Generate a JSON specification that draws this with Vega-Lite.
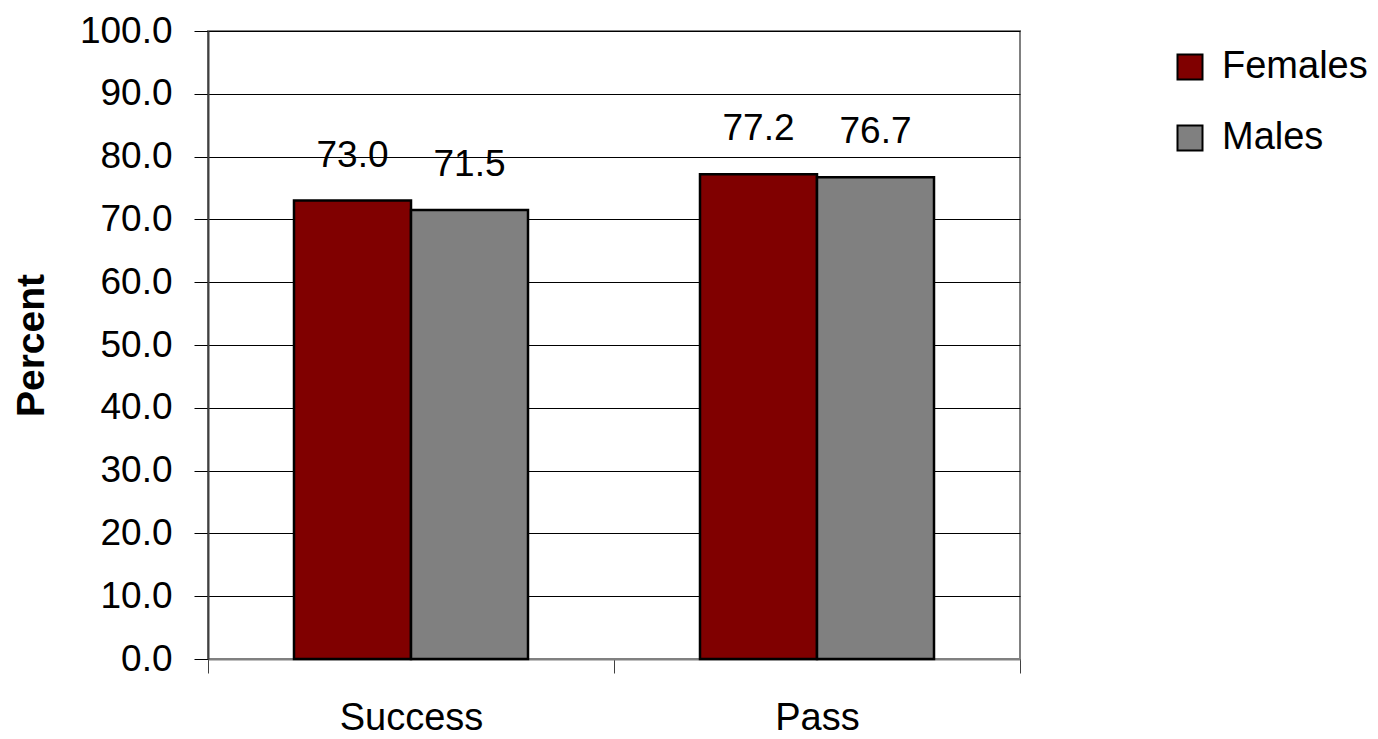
{
  "$schema": "https://vega.github.io/schema/vega-lite/v6.json",
  "width": 812,
  "height": 628,
  "autosize": {"type": "none"},
  "padding": {"left": 208, "top": 31, "right": 358, "bottom": 80},
  "background": "white",
  "config": {
    "font": "Liberation Sans",
    "view": {"stroke": "#808080", "strokeWidth": 2}
  },
  "data": {
    "values": [
      {"measure": "Success", "gender": "Females", "percent": 73.0},
      {"measure": "Success", "gender": "Males", "percent": 71.5},
      {"measure": "Pass", "gender": "Females", "percent": 77.2},
      {"measure": "Pass", "gender": "Males", "percent": 76.7}
    ]
  },
  "encoding": {
    "x": {
      "field": "measure",
      "type": "nominal",
      "sort": ["Success", "Pass"],
      "scale": {"paddingInner": 0, "paddingOuter": 0},
      "axis": {
        "title": null,
        "labelAngle": 0,
        "tickBand": "extent",
        "grid": false,
        "domainColor": "#808080",
        "domainWidth": 2,
        "tickColor": "#404040",
        "tickWidth": 1,
        "tickSize": 14,
        "labelFontSize": 38,
        "labelColor": "black",
        "labelPadding": 26
      }
    },
    "xOffset": {
      "field": "gender",
      "sort": ["Females", "Males"],
      "scale": {"paddingInner": 0, "paddingOuter": 0.735}
    },
    "y": {
      "field": "percent",
      "type": "quantitative",
      "scale": {"domain": [0, 100], "nice": false},
      "axis": {
        "values": [0, 10, 20, 30, 40, 50, 60, 70, 80, 90, 100],
        "format": ".1f",
        "title": "Percent",
        "titleFontSize": 39,
        "titleFontWeight": "bold",
        "titleColor": "black",
        "titlePadding": 28,
        "grid": true,
        "gridColor": "black",
        "gridWidth": 1,
        "domainColor": "#404040",
        "domainWidth": 2,
        "tickColor": "black",
        "tickWidth": 1,
        "tickSize": 14,
        "labelFontSize": 37,
        "labelColor": "black",
        "labelPadding": 22
      }
    }
  },
  "layer": [
    {
      "mark": {"type": "bar", "stroke": "black", "strokeWidth": 2.5},
      "encoding": {
        "color": {
          "field": "gender",
          "type": "nominal",
          "sort": ["Females", "Males"],
          "scale": {"domain": ["Females", "Males"], "range": ["#800000", "#808080"]},
          "legend": {
            "title": null,
            "orient": "none",
            "legendX": 963,
            "legendY": 17,
            "padding": 0,
            "symbolType": "square",
            "symbolSize": 625,
            "symbolStrokeColor": "black",
            "symbolStrokeWidth": 2,
            "labelFontSize": 38,
            "labelColor": "black",
            "labelOffset": 13,
            "rowPadding": 33
          }
        }
      }
    },
    {
      "mark": {"type": "text", "baseline": "alphabetic", "dy": -34, "fontSize": 37, "color": "black"},
      "encoding": {
        "text": {"field": "percent", "type": "quantitative", "format": ".1f"}
      }
    }
  ]
}
